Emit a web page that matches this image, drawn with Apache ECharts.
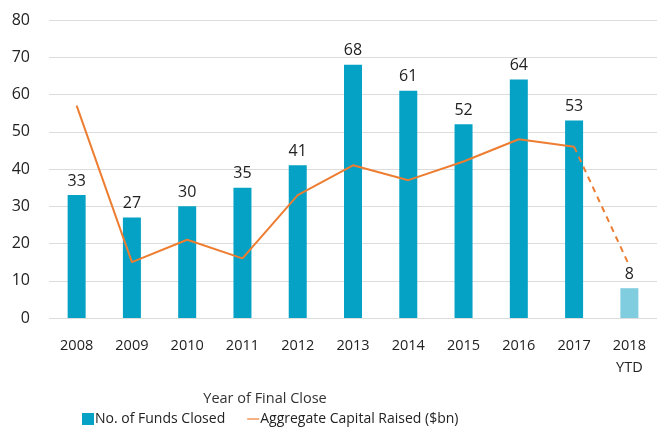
<!DOCTYPE html>
<html>
<head>
<meta charset="utf-8">
<script src="https://cdn.jsdelivr.net/npm/echarts@6/dist/echarts.min.js"></script>
<style>
  html, body { margin: 0; padding: 0; background: #fff; }
  #chart { width: 657px; height: 433px; }
</style>
</head>
<body>
<div id="chart"></div>
<script>
var years = ['2008', '2009', '2010', '2011', '2012', '2013', '2014', '2015', '2016', '2017', '2018\nYTD'];
var fundsClosed = [33, 27, 30, 35, 41, 68, 61, 52, 64, 53, 8];
var capitalRaised = [57, 15, 21, 16, 33, 41, 37, 42, 48, 46, null];
var capitalYtd = [null, null, null, null, null, null, null, null, null, 46, 14];
var yTicks = { min: 0, max: 80, interval: 10 };

var chart = echarts.init(document.getElementById('chart'));
var font = '"Open Sans", "Noto Sans", sans-serif';

var barData = fundsClosed.map(function (v, i) {
    // last year is partial, drawn lighter
    if (i === fundsClosed.length - 1) {
        return { value: v, itemStyle: { color: '#80CDE0' } };
    }
    return v;
});

chart.setOption({
    animation: false,
    textStyle: { fontFamily: font },
    title: {
        text: 'Year of Final Close',
        left: 265,
        top: 391,
        textAlign: 'center',
        padding: 0,
        textStyle: { fontSize: 14.5, fontWeight: 'normal', color: '#333', fontFamily: font }
    },
    grid: { left: 49, right: 0, top: 20, bottom: 115 },
    legend: {
        top: 412,
        left: 82,
        padding: 0,
        itemGap: 22,
        itemWidth: 12,
        itemHeight: 12,
        textStyle: { fontSize: 14, color: '#222', fontFamily: font, padding: [0, 0, 0, -4] },
        data: [
            { name: 'No. of Funds Closed', icon: 'rect' },
            { name: 'Aggregate Capital Raised ($bn)', icon: 'path://M0,5.4H12V6.6H0Z' }
        ]
    },
    xAxis: {
        type: 'category',
        data: years,
        axisLine: { show: false },
        axisTick: { show: false },
        axisLabel: { fontSize: 14.5, color: '#222', margin: 17, lineHeight: 22, fontFamily: font }
    },
    yAxis: {
        type: 'value',
        min: yTicks.min,
        max: yTicks.max,
        interval: yTicks.interval,
        axisLine: { show: false },
        axisTick: { show: false },
        axisLabel: { fontSize: 16, color: '#222', margin: 19, fontFamily: font },
        splitLine: { lineStyle: { color: '#DCDCDC', width: 1 } }
    },
    series: [
        {
            name: 'No. of Funds Closed',
            type: 'bar',
            barWidth: 18,
            z: 3,
            itemStyle: { color: '#05A2C6' },
            label: { show: true, position: 'top', distance: 6, fontSize: 16, color: '#222', fontFamily: font },
            data: barData
        },
        {
            name: 'Aggregate Capital Raised ($bn)',
            type: 'line',
            symbol: 'none',
            lineStyle: { color: '#ED7D31', width: 2 },
            itemStyle: { color: '#ED7D31' },
            data: capitalRaised
        },
        {
            name: 'Aggregate Capital Raised (YTD)',
            type: 'line',
            symbol: 'none',
            lineStyle: { color: '#ED7D31', width: 2, type: [6, 5] },
            data: capitalYtd
        }
    ]
});
</script>
</body>
</html>
